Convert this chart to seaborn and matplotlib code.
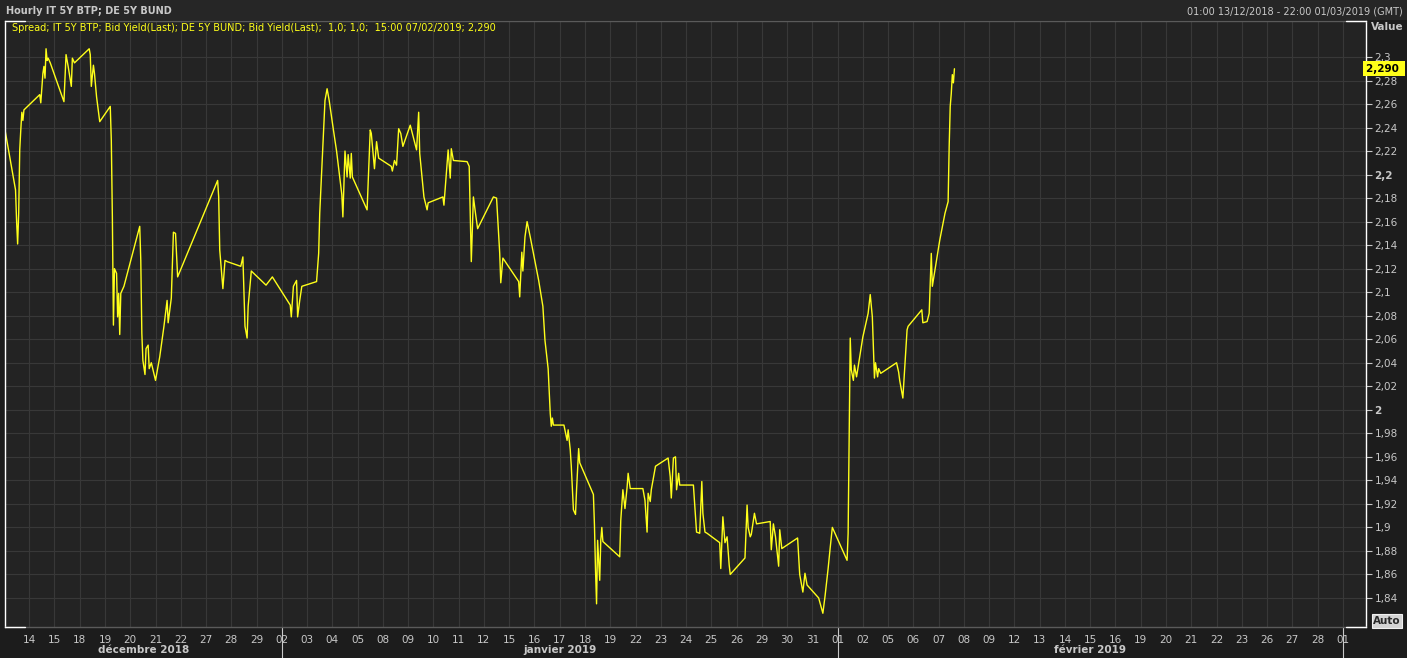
import numpy as np
import pandas as pd
import seaborn as sns
import matplotlib.pyplot as plt
from matplotlib.lines import Line2D
from matplotlib.ticker import FixedLocator, FuncFormatter

# sessions shown on the time axis (13/12 is the partial first session)
sessions = ['2018-12-13', '2018-12-14', '2018-12-15', '2018-12-18', '2018-12-19',
            '2018-12-20', '2018-12-21', '2018-12-22', '2018-12-27', '2018-12-28',
            '2018-12-29', '2019-01-02', '2019-01-03', '2019-01-04', '2019-01-05',
            '2019-01-08', '2019-01-09', '2019-01-10', '2019-01-11', '2019-01-12',
            '2019-01-15', '2019-01-16', '2019-01-17', '2019-01-18', '2019-01-19',
            '2019-01-22', '2019-01-23', '2019-01-24', '2019-01-25', '2019-01-26',
            '2019-01-29', '2019-01-30', '2019-01-31', '2019-02-01', '2019-02-02',
            '2019-02-05', '2019-02-06', '2019-02-07', '2019-02-08', '2019-02-09',
            '2019-02-12', '2019-02-13', '2019-02-14', '2019-02-15', '2019-02-16',
            '2019-02-19', '2019-02-20', '2019-02-21', '2019-02-22', '2019-02-23',
            '2019-02-26', '2019-02-27', '2019-02-28', '2019-03-01']
month_names = {12: 'décembre 2018', 1: 'janvier 2019', 2: 'février 2019'}

# hourly spread IT 5Y BTP - DE 5Y BUND, hours counted from 00:00 of the first session
hours = [1, 11, 12, 13, 14, 15, 16, 17, 18, 19,
         34, 35, 37, 38, 39, 40, 41, 42, 44, 57,
         59, 61, 64, 65, 67, 81, 82, 83, 85, 86,
         88, 91, 101, 102, 103, 104, 105, 107, 108, 109,
         110, 111, 114, 129, 130, 131, 132, 134, 135, 137,
         138, 140, 144, 148, 152, 155, 156, 159, 160, 161,
         163, 165, 203, 204, 205, 208, 210, 212, 225, 227,
         228, 229, 231, 232, 235, 249, 255, 272, 273, 275,
         278, 279, 281, 283, 297, 299, 300, 303, 305, 307,
         309, 313, 316, 321, 322, 324, 326, 327, 329, 330,
         331, 345, 348, 349, 352, 354, 356, 368, 369, 371,
         373, 375, 377, 379, 386, 392, 394, 395, 399, 402,
         403, 417, 418, 420, 422, 424, 425, 427, 440, 442,
         443, 444, 446, 448, 450, 465, 468, 471, 472, 474,
         489, 490, 492, 493, 495, 497, 500, 503, 508, 512,
         514, 517, 519, 520, 521, 522, 532, 535, 536, 538,
         539, 541, 543, 544, 546, 547, 560, 561, 562, 563,
         564, 566, 567, 568, 569, 585, 586, 588, 590, 592,
         593, 595, 607, 609, 611, 612, 614, 615, 619, 631,
         633, 634, 636, 638, 639, 641, 642, 655, 657, 658,
         661, 663, 664, 666, 668, 680, 681, 683, 685, 687,
         689, 690, 704, 706, 707, 709, 710, 713, 715, 728,
         729, 731, 733, 736, 737, 739, 754, 756, 758, 759,
         761, 763, 774, 778, 780, 783, 785, 787, 801, 802,
         803, 804, 805, 807, 808, 810, 813, 816, 821, 823,
         825, 827, 828, 830, 831, 833, 848, 850, 851, 854,
         858, 859, 872, 873, 877, 879, 881, 882, 884, 889,
         894, 897, 898, 899, 900, 901, 902, 903]
spread = [2.238, 2.187, 2.161, 2.141, 2.167, 2.221, 2.238, 2.253, 2.246, 2.255,
          2.268, 2.261, 2.286, 2.292, 2.282, 2.307, 2.297, 2.299, 2.295, 2.262,
          2.302, 2.292, 2.275, 2.299, 2.295, 2.307, 2.302, 2.275, 2.293, 2.286,
          2.266, 2.245, 2.258, 2.229, 2.164, 2.072, 2.120, 2.116, 2.079, 2.099,
          2.064, 2.099, 2.105, 2.156, 2.127, 2.065, 2.042, 2.030, 2.052, 2.055,
          2.035, 2.040, 2.025, 2.045, 2.071, 2.093, 2.074, 2.095, 2.122, 2.151,
          2.150, 2.113, 2.195, 2.181, 2.136, 2.103, 2.127, 2.126, 2.122, 2.130,
          2.099, 2.071, 2.061, 2.088, 2.118, 2.106, 2.113, 2.089, 2.079, 2.105,
          2.110, 2.079, 2.093, 2.105, 2.109, 2.133, 2.167, 2.224, 2.263, 2.273,
          2.263, 2.238, 2.220, 2.183, 2.164, 2.220, 2.198, 2.217, 2.197, 2.218,
          2.198, 2.170, 2.238, 2.235, 2.205, 2.228, 2.214, 2.207, 2.203, 2.212,
          2.208, 2.239, 2.235, 2.224, 2.242, 2.221, 2.253, 2.218, 2.181, 2.170,
          2.176, 2.181, 2.174, 2.198, 2.221, 2.197, 2.222, 2.212, 2.211, 2.207,
          2.167, 2.126, 2.181, 2.167, 2.154, 2.181, 2.180, 2.133, 2.108, 2.129,
          2.109, 2.096, 2.134, 2.118, 2.147, 2.160, 2.147, 2.133, 2.110, 2.088,
          2.059, 2.035, 1.997, 1.986, 1.993, 1.987, 1.987, 1.974, 1.983, 1.966,
          1.952, 1.915, 1.911, 1.932, 1.967, 1.955, 1.928, 1.902, 1.864, 1.835,
          1.889, 1.855, 1.889, 1.900, 1.888, 1.875, 1.906, 1.932, 1.916, 1.934,
          1.946, 1.933, 1.933, 1.923, 1.896, 1.929, 1.922, 1.932, 1.952, 1.959,
          1.943, 1.925, 1.959, 1.960, 1.932, 1.946, 1.936, 1.936, 1.909, 1.896,
          1.895, 1.939, 1.912, 1.896, 1.895, 1.887, 1.865, 1.909, 1.887, 1.892,
          1.868, 1.860, 1.874, 1.919, 1.900, 1.892, 1.894, 1.912, 1.903, 1.905,
          1.881, 1.903, 1.892, 1.867, 1.898, 1.882, 1.891, 1.860, 1.850, 1.845,
          1.861, 1.851, 1.840, 1.827, 1.841, 1.865, 1.883, 1.900, 1.872, 1.895,
          1.974, 2.061, 2.034, 2.025, 2.038, 2.028, 2.045, 2.062, 2.082, 2.098,
          2.079, 2.027, 2.040, 2.028, 2.035, 2.031, 2.040, 2.032, 2.025, 2.010,
          2.068, 2.071, 2.085, 2.074, 2.075, 2.082, 2.133, 2.105, 2.116, 2.144,
          2.167, 2.177, 2.224, 2.258, 2.269, 2.285, 2.278, 2.290]

y_ticks = np.round(np.arange(1.84, 2.301, 0.02), 2)

W, H = 1407, 658
BG = '#1c1c1c'
PLOT_BG = '#232323'
GRID = '#383838'
TXT = '#c8c8c8'
YEL = '#ffff1a'

sns.set_theme(style='dark')
plt.rcParams['font.family'] = ['DejaVu Sans']

df = pd.DataFrame({'pos': np.array(hours) / 24.0, 'spread': spread})
dates = pd.to_datetime(sessions)

fig = plt.figure(figsize=(W / 100, H / 100), dpi=100, facecolor=BG)
ax = fig.add_axes([5 / W, 31 / H, 1361 / W, 606 / H])
ax.set_facecolor(PLOT_BG)

sns.lineplot(data=df, x='pos', y='spread', ax=ax, color=YEL, linewidth=1.0,
             estimator=None, sort=False)

ax.set_xlim(1 / 24, len(sessions) - 1 + 22 / 24)
ax.set_ylim(1.8153, 2.3306)
ax.set_xlabel('')
ax.set_ylabel('')

# x axis: one tick per session start
ax.xaxis.set_major_locator(FixedLocator(np.arange(1, len(sessions))))
ax.set_xticklabels([d.strftime('%d') for d in dates[1:]])
ax.yaxis.tick_right()
ax.yaxis.set_major_locator(FixedLocator(y_ticks))
ax.yaxis.set_major_formatter(FuncFormatter(
    lambda v, p: f'{v:.2f}'.rstrip('0').rstrip('.').replace('.', ',')))
ax.tick_params(axis='both', colors=TXT, labelcolor=TXT, labelsize=7.5,
               direction='out', length=4, width=0.8)
ax.tick_params(axis='x', pad=2)
ax.tick_params(axis='y', pad=2)
for lab, v in zip(ax.get_yticklabels(), y_ticks):
    if abs(v * 5 - round(v * 5)) < 1e-6:
        lab.set_fontweight('bold')

ax.grid(True, color=GRID, linewidth=0.8)
ax.set_axisbelow(True)
for side in ['left', 'right']:
    ax.spines[side].set_color('white')
    ax.spines[side].set_linewidth(1)
for side in ['top', 'bottom']:
    ax.spines[side].set_color('#5a5a5a')
    ax.spines[side].set_linewidth(1)

# white corner marks
for (x0, x1, y) in [(5, 25, 21), (1346, 1366, 21), (5, 25, 627), (1346, 1366, 627)]:
    fig.add_artist(Line2D([x0 / W, x1 / W], [1 - y / H, 1 - y / H], color='white', lw=1))

# month labels and separators
months = dates.to_period('M')
xmin, xmax = ax.get_xlim()
bounds = [i for i in range(1, len(dates)) if months[i] != months[i - 1]]
edges = [xmin] + bounds + [xmax]
for i in bounds:
    ax.add_line(Line2D([i, i], [0, -0.052], transform=ax.get_xaxis_transform(),
                       color=TXT, lw=0.8, clip_on=False))
for a, b in zip(edges[:-1], edges[1:]):
    m = dates[int(a) if a > 1 else 0].month
    if m in month_names and b - a > 1:
        ax.text((a + b) / 2, -0.038, month_names[m], transform=ax.get_xaxis_transform(),
                ha='center', va='center', color=TXT, fontsize=7.5, fontweight='bold')

# header
fig.add_artist(plt.Rectangle((0, 1 - 20 / H), 1, 20 / H, color='#262626', lw=0))
fig.text(6 / W, 1 - 11 / H, 'Hourly IT 5Y BTP; DE 5Y BUND', color=TXT, fontsize=7.0,
         fontweight='bold', va='center', ha='left')
fig.text(1403 / W, 1 - 11 / H, '01:00 13/12/2018 - 22:00 01/03/2019 (GMT)', color=TXT,
         fontsize=7.0, va='center', ha='right')
fig.text(12 / W, 1 - 28 / H,
         'Spread; IT 5Y BTP; Bid Yield(Last); DE 5Y BUND; Bid Yield(Last);  1,0; 1,0;  '
         '15:00 07/02/2019; ' + f'{spread[-1]:.3f}'.replace('.', ','),
         color=YEL, fontsize=7.0, va='center', ha='left')
fig.text(1387 / W, 1 - 27 / H, 'Value', color=TXT, fontsize=7.5, fontweight='bold',
         va='center', ha='center')

# last value tag
ax.text(1.0, spread[-1], f'{spread[-1]:.3f} '.replace('.', ','),
        transform=ax.get_yaxis_transform(), ha='left', va='center', color='black',
        fontsize=7.5, fontweight='bold', clip_on=False,
        bbox=dict(boxstyle='square,pad=0.25', fc=YEL, ec='none'))

fig.text(1387 / W, 1 - 621 / H, 'Auto', color='#2a2a2a', fontsize=7.5, fontweight='bold',
         va='center', ha='center',
         bbox=dict(boxstyle='square,pad=0.15', fc='#d4d4d4', ec='#f0f0f0', lw=0.8))

fig.savefig('out.png', dpi=100, facecolor=BG)
